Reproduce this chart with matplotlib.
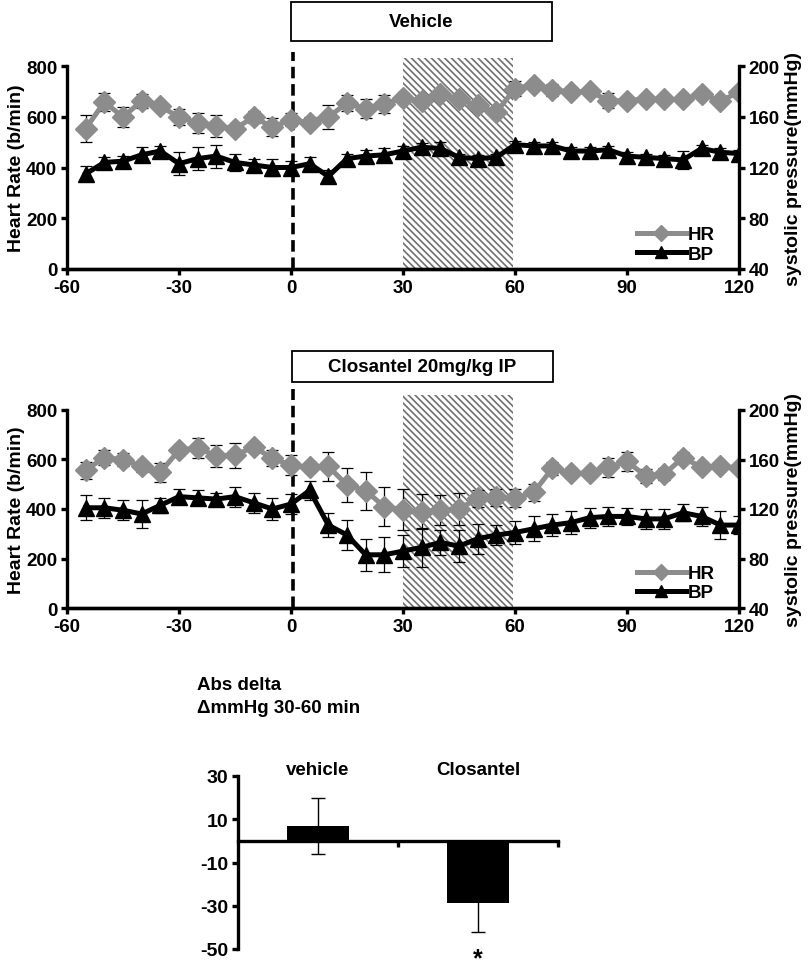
import matplotlib
matplotlib.use("Agg")
import matplotlib.pyplot as plt
from matplotlib.patches import Rectangle
import numpy as np

plt.rcParams['font.family'] = ['Liberation Sans', 'DejaVu Sans']
plt.rcParams['font.weight'] = 'bold'
plt.rcParams['hatch.linewidth'] = 1.2
plt.rcParams['hatch.color'] = '#707070'

# ---------------- data ----------------
time_min = list(range(-55, 121, 5))

veh_hr = [553, 658, 599, 662, 641, 599, 576, 562, 553, 599, 559, 588, 576, 599, 654, 632, 651, 674,
          661, 691, 668, 645, 618, 711, 726, 707, 697, 700, 664, 662, 671, 668, 668, 691, 662, 697]
veh_hr_err = [53, 35, 39, 29, 12, 33, 39, 43, 12, 24, 35, 26, 22, 46, 30, 37, 35, 20,
              20, 15, 18, 20, 15, 30, 12, 24, 20, 12, 29, 12, 12, 12, 18, 17, 12, 12]
veh_bp = [115, 124, 125, 130, 133, 123, 127, 129, 124, 122, 120, 120, 123, 113, 127, 129, 130, 133,
          136, 135, 128, 127, 128, 138, 137, 137, 133, 133, 134, 129, 128, 127, 126, 135, 132, 131]
veh_bp_err = [6, 4, 4, 6, 4, 9, 9, 9, 7, 5, 7, 5, 5, 5, 4, 5, 5, 4,
              3, 5, 3, 3, 3, 3, 3, 3, 3, 3, 3, 3, 3, 3, 7, 3, 3, 3]

clo_hr = [557, 608, 599, 572, 548, 638, 646, 615, 617, 651, 605, 577, 568, 572, 497, 474, 409, 397,
          389, 396, 400, 443, 447, 444, 467, 564, 544, 544, 568, 592, 534, 541, 608, 568, 574, 564]
clo_hr_err = [34, 31, 27, 23, 38, 20, 40, 44, 51, 20, 32, 40, 20, 59, 67, 77, 78, 83,
              71, 60, 63, 34, 34, 36, 34, 27, 20, 20, 38, 39, 27, 23, 24, 15, 15, 15]
clo_bp = [121, 121, 119, 116, 123, 130, 129, 128, 130, 125, 120, 124, 135, 107, 99, 83, 83, 86,
          89, 93, 90, 96, 99, 101, 104, 107, 109, 113, 114, 114, 112, 112, 117, 114, 107, 107]
clo_bp_err = [10, 8, 8, 11, 6, 6, 6, 5, 8, 8, 9, 8, 8, 10, 12, 13, 14, 13,
              16, 10, 13, 12, 8, 9, 10, 9, 9, 8, 8, 7, 8, 8, 7, 8, 11, 7]

panel_titles = ["Vehicle", "Closantel 20mg/kg IP"]
x_ticks = [-60, -30, 0, 30, 60, 90, 120]
hr_ticks = [0, 200, 400, 600, 800]
bp_ticks = [40, 80, 120, 160, 200]

bar_groups = ["vehicle", "Closantel"]
bar_values = [7, -28.5]
bar_errors = [13, 13.5]
bar_ticks = [30, 10, -10, -30, -50]

HR_COLOR = '#8c8c8c'
W, H = 810, 962
TICK_FS = 13.5

fig = plt.figure(figsize=(W / 100, H / 100), dpi=100)


def px_rect(x0, y0, x1, y1):
    return [x0 / W, 1 - y1 / H, (x1 - x0) / W, (y1 - y0) / H]


def line_panel(rect, hr, hr_err, bp, bp_err, title, title_box, hatch_top):
    ax = fig.add_axes(rect)
    ax.set_xlim(-60, 120)
    ax.set_ylim(0, 800)
    axb = ax.twinx()
    axb.set_ylim(40, 200)
    # hatched period
    ax.add_patch(Rectangle((30, 0), 29.5, hatch_top, facecolor='white', edgecolor='#707070',
                           hatch='\\\\\\\\\\', linewidth=0, clip_on=False, zorder=0))
    # injection line
    ax.plot([0.5, 0.5], [0, hatch_top + 25], color='black', lw=2.6, ls=(0, (3.2, 1.6)),
            clip_on=False, zorder=1)
    l1 = ax.errorbar(time_min, hr, yerr=hr_err, color=HR_COLOR, lw=3.6, marker='D', ms=11.5,
                     ecolor='black', elinewidth=0.9, capsize=4, capthick=0.9, zorder=3,
                     label='HR')
    l2 = axb.errorbar(time_min, bp, yerr=bp_err, color='black', lw=3.6, marker='^', ms=12,
                      ecolor='black', elinewidth=0.9, capsize=4, capthick=0.9, zorder=3,
                      label='BP')
    for a in (ax, axb):
        a.spines['top'].set_visible(False)
        for s in ('left', 'right', 'bottom'):
            a.spines[s].set_linewidth(2.4)
        a.tick_params(width=2.4, length=4, labelsize=TICK_FS, direction='out', pad=3)
    ax.spines['right'].set_visible(False)
    axb.spines['left'].set_visible(False)
    ax.set_xticks(x_ticks)
    ax.set_xticklabels([str(t) for t in x_ticks], fontweight='bold')
    ax.set_yticks(hr_ticks)
    ax.set_yticklabels([str(t) for t in hr_ticks], fontweight='bold')
    axb.set_yticks(bp_ticks)
    axb.set_yticklabels([str(t) for t in bp_ticks], fontweight='bold')
    ax.set_ylabel('Heart Rate (b/min)', fontsize=14, fontweight='bold', labelpad=1)
    axb.set_ylabel('systolic pressure(mmHg)', fontsize=14, fontweight='bold', labelpad=4)
    leg = axb.legend([l1[0], l2[0]], ['HR', 'BP'], loc='lower right', frameon=False,
                     fontsize=TICK_FS, handlelength=2.6, handletextpad=0.1, labelspacing=0.12,
                     markerscale=0.75, borderaxespad=0.0, bbox_to_anchor=(0.975, -0.005))
    for t in leg.get_texts():
        t.set_fontweight('bold')
    # title box
    bx0, by0, bx1, by1 = title_box
    fig.patches.append(Rectangle((bx0 / W, 1 - by1 / H), (bx1 - bx0) / W, (by1 - by0) / H,
                                 transform=fig.transFigure, facecolor='white',
                                 edgecolor='black', linewidth=1.3))
    fig.text((bx0 + bx1) / 2 / W, 1 - (by0 + by1) / 2 / H, title, ha='center', va='center',
             fontsize=13.5, fontweight='bold')
    return ax, axb


line_panel(px_rect(67, 67, 739, 270), veh_hr, veh_hr_err, veh_bp, veh_bp_err,
           panel_titles[0], (291, 3, 552, 42), 830)
line_panel(px_rect(67, 411, 739, 609), clo_hr, clo_hr_err, clo_bp, clo_bp_err,
           panel_titles[1], (292, 352, 553, 383), 860)

# ---------------- bar chart ----------------
ax3 = fig.add_axes(px_rect(238, 777, 558, 950))
ax3.set_xlim(0, 2)
ax3.set_ylim(-50, 30)
xpos = [0.5, 1.5]
ax3.bar(xpos, bar_values, width=0.39, color='black', zorder=2)
ax3.errorbar(xpos, bar_values, yerr=bar_errors, fmt='none', ecolor='black',
             elinewidth=1.0, capsize=5, capthick=1.0, zorder=3)
ax3.spines['top'].set_visible(False)
ax3.spines['right'].set_visible(False)
ax3.spines['bottom'].set_position(('data', 0))
ax3.spines['bottom'].set_linewidth(2.4)
ax3.spines['left'].set_linewidth(2.4)
ax3.set_yticks(bar_ticks)
ax3.set_yticklabels([str(t) for t in bar_ticks], fontweight='bold')
ax3.set_xticks([1, 2])
ax3.set_xticklabels(['', ''])
ax3.tick_params(axis='both', width=2.4, length=4, labelsize=14, direction='out', pad=3)
for x, g in zip(xpos, bar_groups):
    ax3.text(x, 33, g, ha='center', va='center', fontsize=13.5, fontweight='bold')
ax3.text(1.5, -48.9, '*', ha='center', va='top', fontsize=18, fontweight='bold',
         clip_on=False)

fig.text(197 / W, 1 - 690 / H, 'Abs delta', ha='left', va='baseline', fontsize=13.5,
         fontweight='bold')
fig.text(197 / W, 1 - 713 / H, '\u0394mmHg 30-60 min', ha='left', va='baseline',
         fontsize=13.5, fontweight='bold')

fig.savefig('out.png', dpi=100)
